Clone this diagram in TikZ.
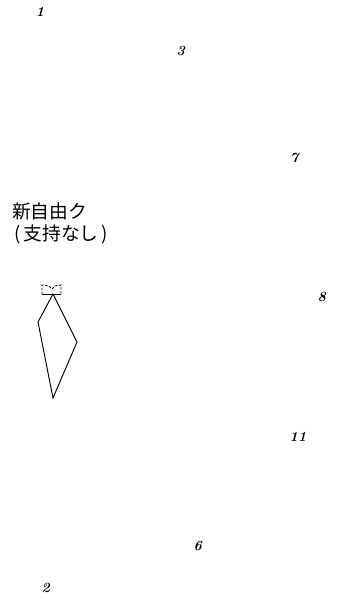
\documentclass[tikz,border=0pt]{standalone}
\usepackage{fontspec}
\newfontfamily\jpfont{Noto Sans CJK JP}
\usetikzlibrary{positioning}
\newcommand{\hand}[1]{\textit{#1}}

\begin{document}
\begin{tikzpicture}[x=0.03cm, y=-0.03cm,
    num/.style={font=\fontsize{12}{13}\selectfont\bfseries, inner sep=0pt},
    party/.style={font=\jpfont\fontsize{16}{18}\selectfont, inner sep=0pt, anchor=west}]
  \useasboundingbox[fill=white] (0,0) rectangle (338,597);
  % numbers round the edge
  \node[num] (n1) at (40,12) {\hand{1}};
  \node[num] (n3) at (181,51) {\hand{3}};
  \node[num] (n7) at (295,158) {\hand{7}};
  \node[num] (n8) at (322,297) {\hand{8}};
  \node[num] (n11) at (298,437) {\hand{11}};
  \node[num] (n6) at (198,546) {\hand{6}};
  \node[num] (n2) at (46,588) {\hand{2}};
  % label
  \node[party] (lab1) at (12,211) {新自由ク};
  \node[party] (lab2) at (14,234) {(\,支持なし\,)};
  % box on top
  \draw[thick, dashed, dash pattern=on 2pt off 1.5pt] (42,294) -- (42,285) -- (49,286) -- (52,289) -- (55,286) -- (61,285) -- (61,294);
  \draw[thick] (42,294) -- (61,294);
  % kite
  \draw[thick] (53,294) -- (38,322) -- (53,398) -- (77,342) -- cycle;
\end{tikzpicture}
\end{document}
